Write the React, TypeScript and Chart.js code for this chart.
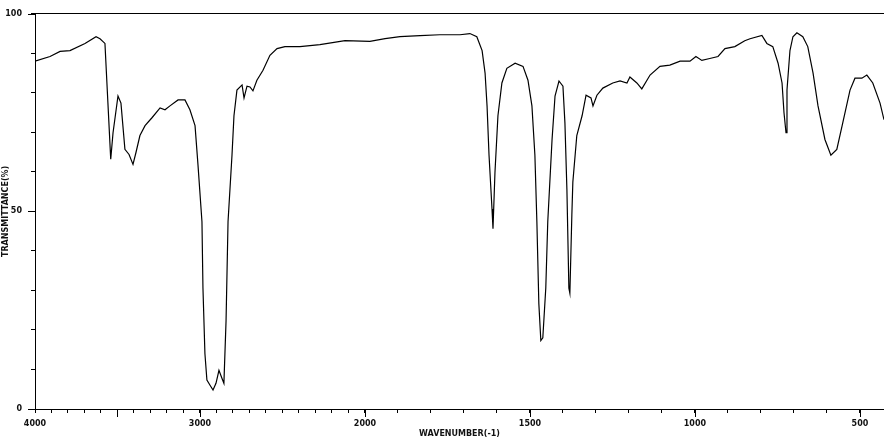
import React, { useEffect, useRef } from "react";
import { Chart, registerables } from "chart.js";

Chart.register(...registerables);

// Wavenumber (cm-1) of each read-off point
const WAVENUMBERS = [
  4000, 3909, 3848, 3788, 3697, 3630, 3606, 3576, 3558, 3541, 3527, 3497, 3479, 3455, 3430, 3406,
  3388, 3364, 3333, 3291, 3242, 3212, 3182, 3133, 3091, 3061, 3030, 3012, 2988, 2982, 2970, 2958,
  2939, 2921, 2903, 2885, 2867, 2855, 2842, 2830, 2806, 2794, 2776, 2745, 2733, 2715, 2697, 2679,
  2655, 2618, 2576, 2533, 2485, 2394, 2273, 2121, 1985, 1939, 1894, 1833, 1773, 1712, 1682, 1661,
  1645, 1636, 1630, 1624, 1615, 1612, 1606, 1597, 1585, 1570, 1545, 1521, 1506, 1494, 1485, 1479,
  1473, 1467, 1461, 1452, 1446, 1433, 1424, 1412, 1400, 1394, 1388, 1382, 1379, 1373, 1370, 1358,
  1342, 1330, 1315, 1309, 1297, 1279, 1249, 1227, 1206, 1197, 1176, 1161, 1136, 1106, 1076, 1045,
  1015, 997, 979, 955, 930, 909, 879, 849, 833, 797, 782, 764, 748, 736, 730, 724,
  721, 712, 703, 691, 673, 658, 642, 627, 606, 588, 570, 552, 530, 515, 494, 479,
  461, 439, 427,
];

// Transmittance (%) at each wavenumber
const TRANSMITTANCE = [
  88.0, 89.2, 90.5, 90.7, 92.5, 94.2, 93.7, 92.5, 77.4, 63.2, 69.9, 79.2, 77.4, 65.7, 64.4, 61.9,
  64.9, 69.2, 71.7, 73.7, 76.2, 75.7, 76.7, 78.2, 78.2, 75.7, 71.7, 61.7, 47.4, 30.6, 14.0, 7.3,
  6.0, 4.8, 6.5, 9.8, 7.8, 6.5, 22.3, 47.4, 64.2, 74.2, 80.7, 82.0, 78.7, 81.7, 81.5, 80.5,
  83.2, 85.7, 89.5, 91.2, 91.7, 91.7, 92.2, 93.2, 93.0, 93.7, 94.2, 94.5, 94.7, 94.7, 95.0, 94.2,
  90.7, 85.0, 76.7, 64.2, 50.6, 45.6, 59.9, 74.2, 82.5, 86.2, 87.5, 86.7, 83.2, 76.7, 64.2, 47.4,
  26.6, 17.3, 18.0, 30.6, 47.4, 68.2, 79.2, 83.0, 81.7, 72.4, 55.6, 30.6, 29.3, 49.1, 57.4, 69.2,
  74.2, 79.4, 78.7, 76.7, 79.4, 81.2, 82.5, 83.0, 82.5, 84.0, 82.5, 81.0, 84.5, 86.7, 87.0, 88.0,
  88.0, 89.2, 88.2, 88.7, 89.2, 91.2, 91.7, 93.2, 93.7, 94.5, 92.5, 91.7, 87.5, 82.5, 74.9, 69.9,
  80.7, 90.7, 94.2, 95.2, 94.2, 91.7, 85.0, 76.7, 68.2, 64.2, 65.7, 72.4, 80.7, 83.7, 83.7, 84.5,
  82.5, 77.4, 73.2,
];

const X_TICKS = [
  4000, 3900, 3800, 3700, 3600, 3500, 3400, 3300, 3200, 3100, 3000, 2900, 2800, 2700, 2600, 2500,
  2400, 2300, 2200, 2100, 2000, 1900, 1800, 1700, 1600, 1500, 1400, 1300, 1200, 1100, 1000, 900,
  800, 700, 600, 500,
];
const X_LABELS = [4000, 3000, 2000, 1500, 1000, 500];
const X_MAJOR = [3500, 3000, 2000, 1500, 1000, 500];
const Y_LABELS = [0, 50, 100];
const X_MIN_WAVENUMBER = 4000;
const X_MAX_WAVENUMBER = 427;

// Spectrometer chart: scale doubles below 2000 cm-1
const toAxis = (w: number) => (w >= 2000 ? 4000 - w : 2000 + 2 * (2000 - w));
const fromAxis = (u: number) => (u <= 2000 ? 4000 - u : 2000 - (u - 2000) / 2);

const majorTicks = {
  id: "majorTicks",
  afterDraw(chart: any) {
    const ctx = chart.ctx;
    const x = chart.scales.x;
    const y = chart.scales.y;
    ctx.save();
    ctx.strokeStyle = "#000";
    ctx.lineWidth = 1;
    ctx.beginPath();
    X_MAJOR.forEach((w) => {
      const px = Math.round(x.getPixelForValue(toAxis(w))) + 0.5;
      ctx.moveTo(px, x.top);
      ctx.lineTo(px, x.top + 8);
    });
    Y_LABELS.forEach((v) => {
      const py = Math.round(y.getPixelForValue(v)) + 0.5;
      ctx.moveTo(y.right - 7, py);
      ctx.lineTo(y.right, py);
    });
    ctx.stroke();
    ctx.restore();
  },
};

export default function App() {
  const ref = useRef<HTMLCanvasElement | null>(null);

  useEffect(() => {
    if (!ref.current) return;
    const data = WAVENUMBERS.map((w, i) => ({ x: toAxis(w), y: TRANSMITTANCE[i] }));
    const tickFont = { family: "DejaVu Sans", size: 8, weight: "bold" as const };
    const chart = new Chart(ref.current, {
      type: "line",
      data: {
        datasets: [
          {
            data,
            borderColor: "#000",
            borderWidth: 1.2,
            pointRadius: 0,
            tension: 0,
            fill: false,
          },
        ],
      },
      plugins: [majorTicks],
      options: {
        animation: false,
        responsive: false,
        layout: { padding: { top: 10, right: 0, left: 0, bottom: 0 } },
        plugins: { legend: { display: false }, tooltip: { enabled: false } },
        scales: {
          x: {
            type: "linear",
            position: "bottom",
            min: toAxis(X_MIN_WAVENUMBER),
            max: toAxis(X_MAX_WAVENUMBER),
            afterBuildTicks: (scale: any) => {
              scale.ticks = X_TICKS.map((w) => ({ value: toAxis(w) }));
            },
            afterFit: (scale: any) => {
              scale.height = 37;
            },
            ticks: {
              autoSkip: false,
              maxRotation: 0,
              padding: 6,
              color: "#111",
              font: tickFont,
              callback: (value: any) => {
                const w = Math.round(fromAxis(Number(value)));
                return X_LABELS.includes(w) ? String(w) : "";
              },
            },
            grid: { drawOnChartArea: false, tickLength: 4, color: "#000", tickWidth: 1 },
            border: { display: true, color: "#000", width: 1 },
            title: {
              display: true,
              text: "WAVENUMBER(-1)",
              color: "#111",
              font: { family: "DejaVu Sans", size: 8, weight: "bold" },
              padding: { top: 0, bottom: 7 },
            },
          },
          x2: {
            type: "linear",
            position: "top",
            min: 0,
            max: 1,
            afterFit: (scale: any) => {
              scale.height = 0;
            },
            ticks: { display: false },
            grid: { display: false, drawTicks: false },
            border: { display: true, color: "#000", width: 1 },
          },
          y: {
            type: "linear",
            min: 0,
            max: 100,
            afterBuildTicks: (scale: any) => {
              const t = [];
              for (let v = 0; v <= 100; v += 10) t.push({ value: v });
              scale.ticks = t;
            },
            afterFit: (scale: any) => {
              scale.width = 35;
            },
            ticks: {
              padding: 9,
              color: "#111",
              font: tickFont,
              callback: (value: any) => (Y_LABELS.includes(Number(value)) ? String(value) : ""),
            },
            grid: { drawOnChartArea: false, tickLength: 4, color: "#000", tickWidth: 1 },
            border: { display: true, color: "#000", width: 1 },
            title: {
              display: true,
              text: "TRANSMITTANCE(%)",
              color: "#111",
              font: { family: "DejaVu Sans", size: 8, weight: "bold" },
              padding: { top: 1, bottom: 0 },
            },
          },
        },
      },
    });
    return () => chart.destroy();
  }, []);

  return (
    <div style={{ position: "absolute", left: 0, top: 0, width: 884, height: 446, background: "#fff" }}>
      <canvas ref={ref} width={884} height={446} style={{ display: "block" }} />
    </div>
  );
}
